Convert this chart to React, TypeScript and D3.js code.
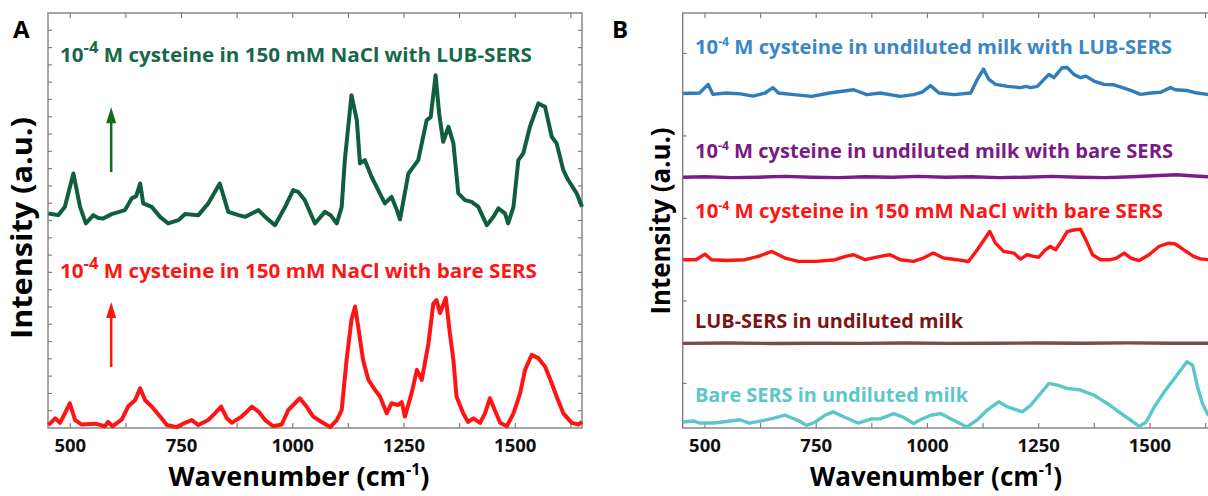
import React from "react";
import * as d3 from "d3";

type Pt = [number, number];

// ---------- Panel A data (wavenumber, intensity a.u.) ----------
const greenA: Pt[] = [
  [451, 12.41], [473, 12.31], [488, 12.79], [507, 14.72], [522, 12.79], [535, 11.83], [552, 12.31], [563, 12.14],
  [574, 12.12], [593, 12.37], [610, 12.5], [623, 12.6], [638, 13.28], [648, 13.4], [657, 14.14], [664, 12.99],
  [683, 12.79], [702, 12.21], [720, 11.83], [743, 12.02], [758, 12.37], [788, 12.31], [810, 12.99], [836, 14.14],
  [855, 12.5], [878, 12.31], [893, 12.21], [923, 12.6], [938, 12.21], [960, 11.73], [983, 12.79], [1001, 13.76],
  [1012, 13.66], [1027, 13.18], [1050, 11.83], [1072, 12.5], [1085, 12.31], [1099, 11.83], [1110, 12.79],
  [1117, 15.49], [1132, 19.25], [1144, 17.8], [1151, 15.3], [1162, 15.49], [1177, 14.53], [1192, 13.76],
  [1207, 12.99], [1222, 13.37], [1234, 12.6], [1241, 12.06], [1260, 14.72], [1282, 15.49], [1301, 17.8],
  [1310, 17.98], [1321, 20.4], [1329, 18.19], [1338, 16.55], [1350, 17.42], [1361, 16.46], [1372, 13.57],
  [1387, 13.18], [1402, 13.08], [1417, 12.79], [1436, 11.73], [1451, 12.21], [1462, 12.7], [1477, 12.41],
  [1484, 11.83], [1496, 12.79], [1507, 15.49], [1518, 15.88], [1533, 17.42], [1552, 18.77], [1567, 18.57],
  [1582, 16.84], [1593, 16.46], [1608, 14.91], [1619, 14.34], [1638, 13.57], [1650, 12.79],
];

const redA: Pt[] = [
  [451, 0.17], [466, 0.56], [477, 0.3], [488, 0.85], [499, 1.43], [511, 0.46], [526, 0.2], [556, 0.25],
  [578, 0.1], [585, 0.35], [595, 0.1], [616, 0.5], [630, 1.24], [646, 1.62], [657, 2.3], [668, 1.62],
  [683, 1.24], [702, 0.66], [717, 0.17], [739, 0.05], [758, 0.3], [773, 0.46], [788, 0.17], [810, 0.46],
  [825, 0.85], [839, 1.24], [852, 0.56], [863, 0.3], [885, 0.66], [893, 0.85], [908, 1.24], [923, 0.95],
  [938, 0.46], [956, 0.1], [975, 0.2], [990, 1.04], [1005, 1.43], [1016, 1.72], [1031, 1.24], [1046, 0.66],
  [1065, 0.35], [1084, 0.05], [1099, 0.46], [1110, 1.04], [1121, 3.94], [1132, 6.26], [1140, 7.03],
  [1147, 5.87], [1158, 3.94], [1170, 2.78], [1185, 2.2], [1196, 1.82], [1211, 0.85], [1222, 1.43],
  [1237, 1.33], [1245, 1.5], [1252, 0.66], [1267, 2.0], [1279, 3.36], [1290, 2.78], [1305, 4.9],
  [1316, 7.2], [1323, 7.4], [1331, 6.65], [1344, 7.52], [1353, 5.49], [1361, 3.94], [1368, 1.82],
  [1383, 0.85], [1394, 0.35], [1406, 0.56], [1421, 0.3], [1432, 0.85], [1443, 1.72], [1454, 1.04],
  [1466, 0.3], [1481, 0.1], [1496, 0.85], [1511, 2.0], [1522, 3.36], [1537, 4.23], [1552, 4.04],
  [1567, 3.55], [1582, 2.59], [1593, 1.82], [1608, 0.85], [1627, 0.3], [1642, 0.2], [1650, 0.35],
];

// ---------- Panel B data ----------
const blueB: Pt[] = [
  [451, 3.515], [488, 3.52], [507, 3.625], [518, 3.503], [548, 3.52], [580, 3.51], [608, 3.482], [635, 3.52],
  [653, 3.585], [665, 3.52], [700, 3.5], [740, 3.48], [780, 3.52], [834, 3.56], [864, 3.5], [894, 3.52],
  [939, 3.48], [969, 3.5], [988, 3.53], [1007, 3.61], [1026, 3.52], [1060, 3.5], [1097, 3.52], [1112, 3.685],
  [1126, 3.81], [1138, 3.685], [1153, 3.625], [1180, 3.6], [1210, 3.585], [1221, 3.6], [1232, 3.585],
  [1247, 3.6], [1262, 3.685], [1273, 3.746], [1284, 3.706], [1303, 3.827], [1314, 3.83], [1329, 3.746],
  [1344, 3.706], [1356, 3.725], [1374, 3.665], [1397, 3.625], [1419, 3.62], [1442, 3.58], [1461, 3.543],
  [1479, 3.503], [1502, 3.52], [1524, 3.53], [1546, 3.585], [1557, 3.56], [1584, 3.55], [1606, 3.52],
  [1629, 3.503], [1650, 3.5],
];

const purpleB: Pt[] = [
  [451, 2.5], [500, 2.505], [560, 2.495], [620, 2.5], [680, 2.51], [740, 2.5], [800, 2.495], [860, 2.505],
  [920, 2.5], [980, 2.51], [1040, 2.5], [1100, 2.505], [1160, 2.495], [1220, 2.5], [1280, 2.51], [1340, 2.5],
  [1400, 2.495], [1460, 2.505], [1520, 2.52], [1560, 2.53], [1600, 2.515], [1650, 2.5],
];

const redB: Pt[] = [
  [451, 1.5], [480, 1.5], [500, 1.567], [515, 1.5], [550, 1.49], [590, 1.5], [620, 1.54], [650, 1.6],
  [680, 1.52], [710, 1.48], [750, 1.48], [793, 1.5], [816, 1.54], [834, 1.56], [860, 1.5], [894, 1.54],
  [916, 1.56], [939, 1.5], [969, 1.48], [991, 1.52], [1013, 1.58], [1036, 1.52], [1066, 1.5], [1092, 1.478],
  [1112, 1.62], [1140, 1.842], [1153, 1.7], [1171, 1.6], [1194, 1.58], [1209, 1.507], [1224, 1.56],
  [1239, 1.54], [1250, 1.53], [1265, 1.62], [1276, 1.66], [1288, 1.62], [1303, 1.74], [1314, 1.84],
  [1329, 1.86], [1344, 1.87], [1356, 1.74], [1371, 1.56], [1389, 1.5], [1412, 1.5], [1425, 1.52],
  [1442, 1.58], [1457, 1.52], [1476, 1.49], [1498, 1.56], [1520, 1.66], [1542, 1.7], [1557, 1.69],
  [1576, 1.62], [1598, 1.54], [1613, 1.51], [1631, 1.5], [1650, 1.5],
];

const brownB: Pt[] = [
  [451, 0.486], [550, 0.49], [650, 0.485], [750, 0.488], [850, 0.486], [950, 0.49], [1050, 0.486],
  [1150, 0.488], [1250, 0.49], [1350, 0.487], [1450, 0.492], [1550, 0.488], [1650, 0.486],
];

const cyanB: Pt[] = [
  [451, -0.467], [474, -0.455], [488, -0.48], [520, -0.48], [557, -0.455], [578, -0.44], [600, -0.48],
  [630, -0.45], [655, -0.42], [680, -0.385], [710, -0.45], [728, -0.507], [747, -0.47], [770, -0.385],
  [788, -0.345], [814, -0.41], [844, -0.48], [874, -0.43], [894, -0.43], [924, -0.365], [946, -0.41],
  [969, -0.486], [984, -0.44], [1007, -0.385], [1029, -0.365], [1059, -0.446], [1089, -0.527], [1112, -0.44],
  [1134, -0.324], [1160, -0.223], [1180, -0.284], [1200, -0.32], [1213, -0.345], [1232, -0.264],
  [1254, -0.122], [1273, 0.0], [1292, -0.02], [1314, -0.06], [1344, -0.08], [1374, -0.142], [1404, -0.243],
  [1430, -0.345], [1457, -0.446], [1476, -0.52], [1491, -0.47], [1510, -0.284], [1532, -0.102], [1555, 0.06],
  [1583, 0.262], [1596, 0.22], [1607, -0.04], [1618, -0.243], [1629, -0.365], [1650, -0.48],
];

// ---------- Axes / ticks ----------
const xDomain: [number, number] = [450, 1650];
const xTickLabels = [500, 750, 1000, 1250, 1500];
const xMinorTicks = [500, 625, 750, 875, 1000, 1125, 1250, 1375, 1500, 1625];
const yDomainA: [number, number] = [0, 24];
const yTicksA = d3.range(1, 24);
const yDomainB: [number, number] = [-0.54, 4.49];
const yTicksB = [0, 1, 2, 3, 4];

// arrows (wavenumber, from, to)
const arrowX = 592;
const greenArrow: [number, number] = [14.8, 18.55];
const redArrow: [number, number] = [3.53, 7.28];

const FONT = "'Open Sans', 'Noto Sans', sans-serif";
const FRAME = "#7f7f7f";

const W = 1208, H = 496;
const TOP = 13, BOTTOM = 428;

export default function App() {
  const xA = d3.scaleLinear().domain(xDomain).range([48, 582]);
  const yA = d3.scaleLinear().domain(yDomainA).range([BOTTOM, TOP]);
  const xB = d3.scaleLinear().domain(xDomain).range([682.7, 1216.7]);
  const yB = d3.scaleLinear().domain(yDomainB).range([BOTTOM, TOP]);

  const lineA = d3.line<Pt>().x((d) => xA(d[0])).y((d) => yA(d[1]));
  const lineB = d3.line<Pt>().x((d) => xB(d[0])).y((d) => yB(d[1]));

  const frame = (x: d3.ScaleLinear<number, number>, y: d3.ScaleLinear<number, number>, yt: number[], rightTicks: boolean) => {
    const [x0, x1] = x.range();
    return (
      <g>
        <rect x={x0} y={TOP} width={x1 - x0} height={BOTTOM - TOP} fill="none" stroke={FRAME} strokeWidth={1.4} />
        {xMinorTicks.map((t) => (
          <g key={"xt" + t} stroke={FRAME} strokeWidth={1.2}>
            <line x1={x(t)} x2={x(t)} y1={BOTTOM} y2={BOTTOM - 5} />
            <line x1={x(t)} x2={x(t)} y1={TOP} y2={TOP + 5} />
          </g>
        ))}
        {yt.map((t) => (
          <g key={"yt" + t} stroke={FRAME} strokeWidth={1.2}>
            <line x1={x0} x2={x0 + 4} y1={y(t)} y2={y(t)} />
            {rightTicks && <line x1={x1} x2={x1 - 4} y1={y(t)} y2={y(t)} />}
          </g>
        ))}
        {xTickLabels.map((t) => (
          <text key={"xl" + t} x={x(t)} y={452} textAnchor="middle" fontFamily={FONT} fontWeight={700} fontSize={18.5} fill="#111">
            {t}
          </text>
        ))}
      </g>
    );
  };

  const annot = (x: number, y: number, width: number, color: string, pre: string, sup: string, rest: string, supSize: number, supRise = 8, fs = 20) => (
    <text x={x} y={y} fill={color} fontFamily={FONT} fontWeight={700} fontSize={fs} textLength={width} lengthAdjust="spacingAndGlyphs">
      {pre}
      {sup && (
        <tspan dy={-supRise} fontSize={supSize}>
          {sup}
        </tspan>
      )}
      {sup ? <tspan dy={supRise}>{rest}</tspan> : rest}
    </text>
  );

  const arrow = (x: number, y0: number, y1: number, color: string) => (
    <g>
      <line x1={x} x2={x} y1={y0} y2={y1 + 14} stroke={color} strokeWidth={2.5} />
      <path d={`M${x - 5},${y1 + 16} L${x},${y1} L${x + 5},${y1 + 16} Z`} fill={color} />
    </g>
  );

  return (
    <svg width={W} height={H} style={{ position: "absolute", left: 0, top: 0, background: "#fff" }}>
      <defs>
        <clipPath id="clipB">
          <rect x={682.7} y={TOP} width={600} height={BOTTOM - TOP + 3} />
        </clipPath>
      </defs>
      {/* Panel A */}
      <text x={13} y={38} fontFamily={FONT} fontWeight={700} fontSize={24} fill="#000">A</text>
      {frame(xA, yA, yTicksA, true)}
      <path d={lineA(greenA) || ""} fill="none" stroke="#0f5e3d" strokeWidth={4} strokeLinejoin="round" />
      <path d={lineA(redA) || ""} fill="none" stroke="#ff1414" strokeWidth={4} strokeLinejoin="round" />
      {arrow(xA(arrowX), yA(greenArrow[0]), yA(greenArrow[1]), "#136b1b")}
      {arrow(xA(arrowX), yA(redArrow[0]), yA(redArrow[1]), "#ff1414")}
      {annot(60, 62, 472, "#17684a", "10", "-4", " M cysteine in 150 mM NaCl with LUB-SERS", 16, 9)}
      {annot(60, 278, 477, "#ff1414", "10", "-4", " M cysteine in 150 mM NaCl with bare SERS", 16, 9)}
      <text transform="translate(32,228) rotate(-90)" textAnchor="middle" fontFamily={FONT} fontWeight={700} fontSize={28} fill="#000" textLength={222} lengthAdjust="spacingAndGlyphs">
        Intensity (a.u.)
      </text>
      <text x={299} y={486} textAnchor="middle" fontFamily={FONT} fontWeight={700} fontSize={27} fill="#000">
        Wavenumber (cm<tspan dy={-11} fontSize={16}>-1</tspan><tspan dy={11}>)</tspan>
      </text>

      {/* Panel B */}
      <text x={612} y={38} fontFamily={FONT} fontWeight={700} fontSize={24} fill="#000">B</text>
      {frame(xB, yB, yTicksB, false)}
      <g clipPath="url(#clipB)">
        <path d={lineB(blueB) || ""} fill="none" stroke="#2f7dbd" strokeWidth={3.4} strokeLinejoin="round" />
        <path d={lineB(purpleB) || ""} fill="none" stroke="#7d1b8c" strokeWidth={3.4} strokeLinejoin="round" />
        <path d={lineB(redB) || ""} fill="none" stroke="#ff1414" strokeWidth={3.4} strokeLinejoin="round" />
        <path d={lineB(brownB) || ""} fill="none" stroke="#7a4a4c" strokeWidth={3.4} strokeLinejoin="round" />
        <path d={lineB(cyanB) || ""} fill="none" stroke="#5cc7c9" strokeWidth={3.4} strokeLinejoin="round" />
      </g>
      {annot(695, 54, 477, "#3a86c6", "10", "-4", " M cysteine in undiluted milk with LUB-SERS", 12)}
      {annot(695, 158, 478, "#7a1a86", "10", "-4", " M cysteine in undiluted milk with bare SERS", 12)}
      {annot(695, 218, 468, "#ff1414", "10", "-4", " M cysteine in 150 mM NaCl with bare SERS", 12)}
      {annot(695, 328, 268, "#7c1416", "LUB-SERS in undiluted milk", "", "", 12)}
      {annot(695, 402, 273, "#5cc7c9", "Bare SERS in undiluted milk", "", "", 12)}
      <text transform="translate(670,221) rotate(-90)" textAnchor="middle" fontFamily={FONT} fontWeight={700} fontSize={26} fill="#000" textLength={187} lengthAdjust="spacingAndGlyphs">
        Intensity (a.u.)
      </text>
      <text x={936} y={486} textAnchor="middle" fontFamily={FONT} fontWeight={700} fontSize={26} fill="#000">
        Wavenumber (cm<tspan dy={-11} fontSize={16}>-1</tspan><tspan dy={11}>)</tspan>
      </text>
    </svg>
  );
}
